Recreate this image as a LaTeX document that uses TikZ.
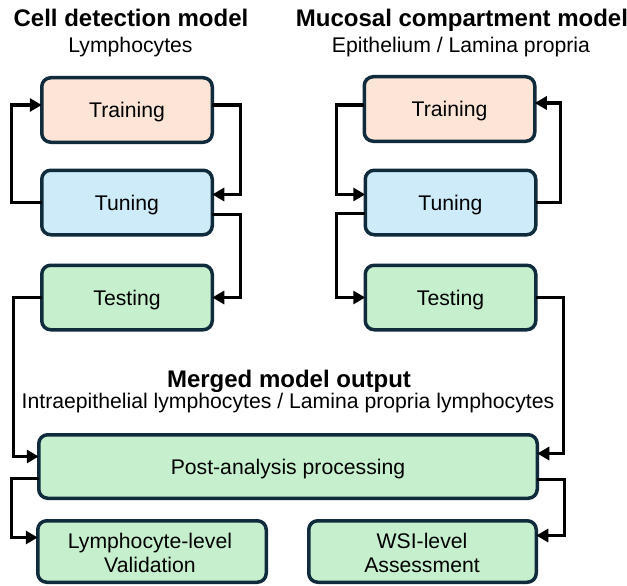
\documentclass[tikz,border=0pt]{standalone}
\usepackage{fontspec}
\setmainfont{Liberation Sans}
\usetikzlibrary{arrows.meta}
\definecolor{peach}{HTML}{FCE4D6}
\definecolor{sky}{HTML}{CDEBF9}
\definecolor{mint}{HTML}{C6EFCE}
\definecolor{border}{HTML}{0F2B3C}
\begin{document}
\begin{tikzpicture}[x=1pt,y=-1pt,
  box/.style={draw=border, line width=3.5pt, rounded corners=9pt, minimum width=170.5pt, minimum height=64.5pt, inner sep=0pt, outer sep=0pt},
  lbl/.style={anchor=base, font=\fontsize{21.2}{24}\selectfont, inner sep=0pt, text=black},
  ttl/.style={anchor=base, font=\fontsize{24}{28}\selectfont\bfseries, inner sep=0pt, text=black},
  conn/.style={line width=3.3pt, draw=black, -{Triangle[length=12pt,width=13pt]}}]
\useasboundingbox (0,0) rectangle (627,586);

% titles
\node[ttl] (t1) at (131,27) {Cell detection model};
\node[lbl] (s1) at (130.5,53) {Lymphocytes};
\node[ttl] (t2) at (462,27) {Mucosal compartment model};
\node[lbl] (s2) at (461,53) {Epithelium / Lamina propria};
\node[ttl] (t3) at (289,387) {Merged model output};
\node[lbl] (s3) at (288,408) {Intraepithelial lymphocytes / Lamina propria lymphocytes};

% left column
\node[box, fill=peach] (trainL) at (127,110) {};
\node[box, fill=sky] (tuneL) at (127,202.5) {};
\node[box, fill=mint] (testL) at (127,297.5) {};
\node[lbl] (trainLt) at ([yshift=-7.5pt]trainL.center) {Training};
\node[lbl] (tuneLt) at ([yshift=-7.5pt]tuneL.center) {Tuning};
\node[lbl] (testLt) at ([yshift=-7.5pt]testL.center) {Testing};

% right column
\node[box, fill=peach] (trainR) at (449.5,109) {};
\node[box, fill=sky] (tuneR) at (450.5,202.5) {};
\node[box, fill=mint] (testR) at (450.5,297.5) {};
\node[lbl] (trainRt) at ([yshift=-7.5pt]trainR.center) {Training};
\node[lbl] (tuneRt) at ([yshift=-7.5pt]tuneR.center) {Tuning};
\node[lbl] (testRt) at ([yshift=-7.5pt]testR.center) {Testing};

% bottom
\node[box, fill=mint, minimum width=498.5pt, minimum height=63.5pt] (post) at (288,466.5) {};
\node[lbl] (postt) at ([yshift=-7.5pt]post.center) {Post-analysis processing};
\node[box, fill=mint, minimum width=228.5pt, minimum height=61.5pt] (lymph) at (152,551.5) {};
\node[lbl] (lymph1) at (150,548) {Lymphocyte-level};
\node[lbl] (lymph2) at (150,572) {Validation};
\node[box, fill=mint, minimum width=227.5pt, minimum height=61.5pt] (wsi) at (422.5,551.5) {};
\node[lbl] (wsi1) at (422,548) {WSI-level};
\node[lbl] (wsi2) at (422,572) {Assessment};

% left connectors
\draw[conn] (tuneL.west) -- ++(-30,0) |- ([yshift=5pt]trainL.west);
\draw[conn] ([yshift=5pt]trainL.east) -- ++(28,0) |- ([yshift=8pt]tuneL.east);
\draw[conn] ([yshift=-12pt]tuneL.east) -- ++(28,0) |- (testL.east);
\draw[conn] (testL.west) -- ++(-28,0) |- ([yshift=10pt]post.west);

% right connectors
\draw[conn] ([yshift=4pt]trainR.west) -- ++(-28,0) |- ([yshift=8pt]tuneR.west);
\draw[conn] ([yshift=-11pt]tuneR.west) -- ++(-29,0) |- (testR.west);
\draw[conn] (tuneR.east) -- ++(25,0) |- ([yshift=6pt]trainR.east);
\draw[conn] (testR.east) -- ++(28,0) |- ([yshift=13pt]post.east);

% bottom connectors
\draw[conn] ([yshift=-12pt]post.west) -- ++(-27,0) |- ([yshift=14pt]lymph.west);
\draw[conn] ([yshift=-13pt]post.east) -- ++(27,0) |- ([yshift=16pt]wsi.east);
\end{tikzpicture}
\end{document}
